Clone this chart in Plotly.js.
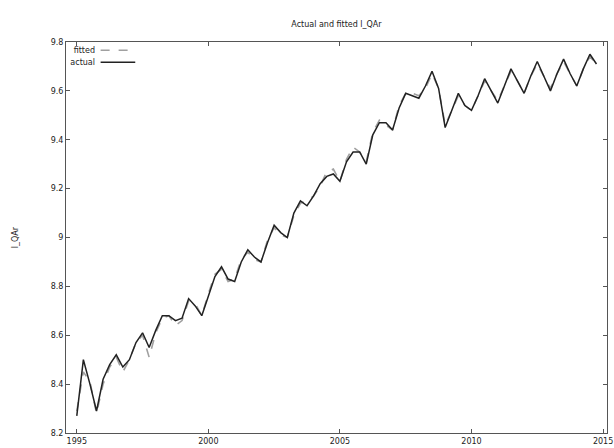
<!DOCTYPE html>
<html>
<head>
<meta charset="utf-8">
<script src="https://cdn.plot.ly/plotly-3.0.1.min.js"></script>
<style>html,body{margin:0;padding:0;background:#fff;}#chart{width:614px;height:448px;}</style>
</head>
<body>
<div id="chart"></div>
<script>
// Quarterly data, 1995Q1 .. 2014Q4
const startYear = 1995;
const actual = [
  8.27, 8.50, 8.40, 8.29,
  8.42, 8.48, 8.52, 8.47,
  8.50, 8.57, 8.61, 8.55,
  8.62, 8.68, 8.68, 8.66,
  8.67, 8.75, 8.72, 8.68,
  8.76, 8.84, 8.88, 8.83,
  8.82, 8.90, 8.95, 8.92,
  8.90, 8.98, 9.05, 9.02,
  9.00, 9.10, 9.15, 9.13,
  9.17, 9.22, 9.25, 9.26,
  9.23, 9.31, 9.35, 9.35,
  9.30, 9.42, 9.47, 9.47,
  9.44, 9.53, 9.59, 9.58,
  9.57, 9.62, 9.68, 9.61,
  9.45, 9.52, 9.59, 9.54,
  9.52, 9.58, 9.65, 9.60,
  9.55, 9.62, 9.69, 9.64,
  9.59, 9.66, 9.72, 9.66,
  9.60, 9.67, 9.73, 9.67,
  9.62, 9.69, 9.75, 9.71
];
const fitted = [
  8.29, 8.45, 8.41, 8.28,
  8.40, 8.47, 8.51, 8.45,
  8.50, 8.57, 8.60, 8.51,
  8.61, 8.67, 8.68, 8.64,
  8.66, 8.74, 8.73, 8.68,
  8.77, 8.85, 8.87, 8.82,
  8.83, 8.91, 8.94, 8.91,
  8.90, 8.99, 9.04, 9.01,
  9.00, 9.09, 9.14, 9.15,
  9.17, 9.21, 9.27, 9.28,
  9.23, 9.32, 9.37, 9.35,
  9.31, 9.43, 9.48, 9.46,
  9.44, 9.54, 9.59, 9.59,
  9.58, 9.61, 9.67, 9.61,
  9.46, 9.52, 9.58, 9.54,
  9.52, 9.58, 9.64, 9.60,
  9.56, 9.62, 9.68, 9.64,
  9.59, 9.66, 9.71, 9.66,
  9.61, 9.67, 9.72, 9.67,
  9.62, 9.69, 9.74, 9.71
];
const seriesNames = ['fitted', 'actual'];
const xTicks = [1995, 2000, 2005, 2010, 2015];
const yTicks = [8.2, 8.4, 8.6, 8.8, 9, 9.2, 9.4, 9.6, 9.8];
const time = actual.map((_, i) => startYear + i / 4);

const fam = 'DejaVu Sans, Liberation Sans, sans-serif';
const font = {family: fam, size: 8, color: '#222'};
const fittedLine = {color: '#a0a0a0', width: 1.6, dash: 'dash'};
const actualLine = {color: '#222222', width: 1.5};

const traces = [
  {x: time, y: fitted, name: seriesNames[0], type: 'scatter', mode: 'lines', line: fittedLine},
  {x: time, y: actual, name: seriesNames[1], type: 'scatter', mode: 'lines', line: actualLine}
];

// gnuplot-style key: label on the left, line sample on the right
const keyRows = [0.979, 0.948];
const annotations = seriesNames.map((n, i) => ({
  xref: 'paper', yref: 'paper', x: 0.0, y: keyRows[i], xanchor: 'left', yanchor: 'middle',
  width: 26, align: 'right', xshift: 1,
  text: n, showarrow: false, font: font
}));
const shapes = [fittedLine, actualLine].map((ln, i) => ({
  type: 'line', xref: 'paper', yref: 'paper', x0: 0.064, x1: 0.128, y0: keyRows[i], y1: keyRows[i],
  line: ln
}));

const layout = {
  width: 614, height: 448,
  margin: {l: 66, r: 7, t: 42, b: 15},
  paper_bgcolor: '#fff', plot_bgcolor: '#fff',
  font: font,
  showlegend: false,
  title: {text: 'Actual and fitted l_QAr', font: font,
          x: 0.548, xanchor: 'center', y: 0.945, yanchor: 'middle'},
  annotations: annotations,
  shapes: shapes,
  xaxis: {range: [1994.59, 2015.15], tickvals: xTicks, ticktext: xTicks.map(String),
          ticks: 'inside', ticklen: 4, tickcolor: '#555', showgrid: false, zeroline: false,
          showline: true, linecolor: '#555', linewidth: 1, mirror: 'ticks', tickfont: font},
  yaxis: {range: [8.2, 9.8], tickvals: yTicks, ticktext: yTicks.map(String),
          ticks: 'inside', ticklen: 4, tickcolor: '#555', showgrid: false, zeroline: false,
          showline: true, linecolor: '#555', linewidth: 1, mirror: 'ticks', tickfont: font,
          title: {text: 'l_QAr', font: font, standoff: 30}}
};

Plotly.newPlot('chart', traces, layout, {displayModeBar: false, staticPlot: true});
</script>
</body>
</html>
